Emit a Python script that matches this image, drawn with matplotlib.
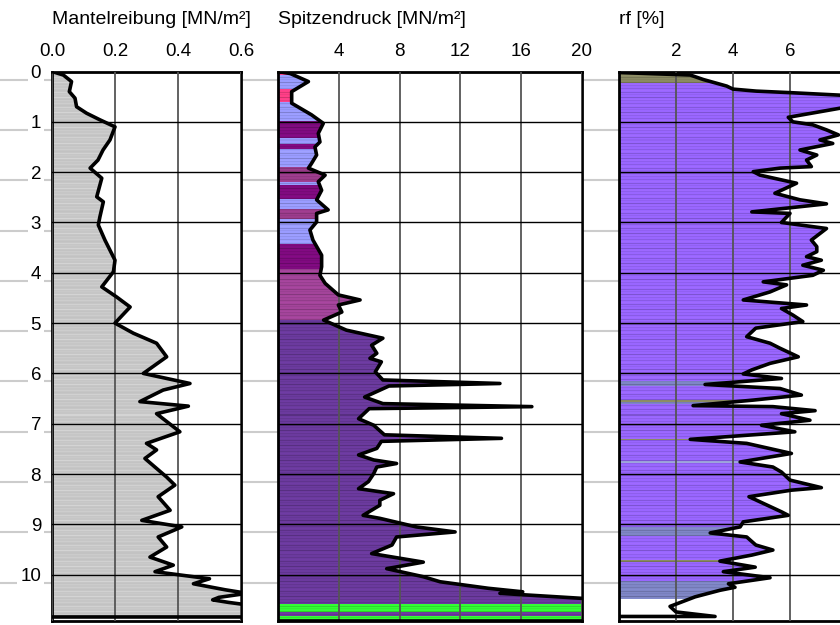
import numpy as np
import matplotlib.pyplot as plt
from matplotlib.patches import Polygon
from matplotlib.colors import to_rgba

plt.rcParams['font.family'] = ['Liberation Sans', 'DejaVu Sans']

# Mantelreibung [MN/m2] over depth [m]
mr_depth = [0, 0.07, 0.2, 0.4, 0.53, 0.7, 0.83, 0.96, 1.1, 1.36, 1.56, 1.76, 1.92, 2.12, 2.49,
            2.59, 2.89, 3.05, 3.35, 3.75, 3.98, 4.28, 4.48, 4.68, 5.0, 5.2, 5.4, 5.67, 6.0, 6.2,
            6.33, 6.56, 6.65, 6.8, 7.16, 7.39, 7.52, 7.69, 8.06, 8.22, 8.45, 8.72, 8.92, 9.05,
            9.25, 9.45, 9.65, 9.81, 9.94, 10.04, 10.08, 10.18, 10.3, 10.37, 10.45, 10.5, 10.55,
            10.6, 10.84, 10.84]
mr_value = [0, 0.036, 0.062, 0.055, 0.073, 0.078, 0.11, 0.152, 0.2, 0.184, 0.162, 0.146, 0.121,
            0.158, 0.142, 0.163, 0.152, 0.147, 0.168, 0.2, 0.195, 0.158, 0.205, 0.248, 0.2, 0.258,
            0.332, 0.364, 0.29, 0.438, 0.353, 0.279, 0.433, 0.332, 0.406, 0.3, 0.332, 0.295,
            0.364, 0.39, 0.337, 0.375, 0.285, 0.412, 0.337, 0.364, 0.311, 0.385, 0.327, 0.449,
            0.5, 0.449, 0.55, 0.62, 0.53, 0.51, 0.56, 0.62, 0.62, 0]

# Spitzendruck [MN/m2]
qc_depth = [0, 0.04, 0.2, 0.4, 0.63, 0.86, 1.03, 1.23, 1.4, 1.5, 1.66, 1.83, 1.92, 2.06, 2.19,
            2.36, 2.55, 2.75, 2.82, 2.99, 3.15, 3.35, 3.65, 3.88, 4.05, 4.21, 4.44, 4.54, 4.64,
            4.78, 4.94, 5.14, 5.3, 5.44, 5.6, 5.7, 5.77, 5.97, 6.13, 6.2, 6.25, 6.47, 6.6, 6.66,
            6.7, 6.9, 7.03, 7.22, 7.29, 7.35, 7.49, 7.62, 7.72, 7.79, 7.86, 7.99, 8.15, 8.29,
            8.39, 8.52, 8.62, 8.82, 8.88, 9.05, 9.15, 9.25, 9.41, 9.58, 9.75, 9.88, 10.04, 10.14,
            10.27, 10.34, 10.37, 10.47, 10.5, 10.92, 10.92]
qc_value = [0, 0.8, 2.0, 0.9, 0.9, 2.2, 2.98, 2.65, 2.76, 2.43, 2.54, 2.2, 2.0, 3.1, 2.65, 2.87,
            2.54, 3.3, 2.54, 2.54, 2.1, 2.3, 2.87, 2.87, 2.76, 3.1, 3.97, 5.4, 3.97, 4.2, 3.0,
            4.5, 6.9, 6.16, 6.5, 6.05, 6.8, 6.4, 6.9, 14.6, 7.3, 5.7, 6.9, 16.7, 6.0, 5.3, 6.3,
            7.0, 14.7, 6.8, 6.5, 5.3, 6.3, 7.8, 6.5, 6.3, 5.95, 5.3, 7.6, 6.7, 6.7, 5.6, 6.7,
            9.1, 11.65, 7.8, 7.5, 6.16, 9.56, 7.15, 9.56, 10.66, 13.84, 16.1, 14.6, 20, 22, 22, 0]

# Reibungsverhaeltnis rf [%]
rf_depth = [0.02, 0.07, 0.16, 0.29, 0.35, 0.39, 0.42, 0.47, 0.55, 0.65, 0.73, 0.91, 1.0, 1.06,
            1.16, 1.26, 1.36, 1.43, 1.56, 1.66, 1.76, 1.89, 1.92, 1.99, 2.06, 2.22, 2.42, 2.55,
            2.63, 2.79, 2.82, 3.0, 3.12, 3.35, 3.48, 3.58, 3.68, 3.75, 3.85, 3.95, 4.05, 4.18,
            4.24, 4.38, 4.54, 4.64, 4.71, 4.84, 4.97, 5.1, 5.27, 5.4, 5.5, 5.67, 5.8, 5.93, 6.01,
            6.1, 6.22, 6.3, 6.43, 6.53, 6.64, 6.66, 6.74, 6.8, 6.93, 7.03, 7.16, 7.31, 7.39,
            7.59, 7.76, 7.86, 7.96, 8.12, 8.27, 8.32, 8.45, 8.75, 8.82, 8.95, 9.05, 9.17, 9.25,
            9.41, 9.51, 9.61, 9.73, 9.85, 9.94, 10.06, 10.18, 10.25, 10.31, 10.44, 10.63, 10.74,
            10.83, 10.83]
rf_value = [0, 2.5, 2.96, 3.78, 4.0, 4.82, 6.0, 7.75, 8.6, 8.8, 7.75, 5.94, 6.1, 6.8, 7.28, 7.7,
            7.05, 7.5, 6.35, 6.94, 6.58, 6.75, 5.65, 4.71, 4.95, 6.23, 5.47, 6.35, 7.28, 4.66,
            6.0, 5.7, 7.28, 6.75, 6.94, 6.94, 6.58, 7.1, 6.45, 7.17, 6.8, 5.06, 5.88, 5.3, 4.36,
            6.58, 5.7, 6.1, 6.45, 4.8, 4.48, 5.3, 5.65, 6.29, 5.3, 4.66, 4.36, 5.7, 3.02, 5.65,
            6.4, 4.71, 2.6, 5.4, 6.88, 5.7, 6.7, 5.0, 6.17, 2.5, 4.48, 6.05, 4.25, 5.4, 5.7, 6.0,
            7.1, 6.05, 4.56, 5.7, 5.94, 4.36, 4.25, 3.2, 4.48, 4.8, 5.4, 4.66, 3.54, 4.78, 3.66,
            5.3, 3.84, 4.07, 3.54, 2.67, 1.79, 2.0, 3.37, 0]

# soil layers (top, bottom, colour) used for the fills
mr_layers = [(0.0, 10.92, '#c6c6c6')]
qc_layers = [(0.0, 0.08, '#ff3f87'), (0.08, 0.36, '#9a9cff'), (0.36, 0.62, '#ff3f87'),
             (0.62, 1.0, '#9a9cff'), (1.0, 1.35, '#800a80'), (1.35, 1.45, '#9a9cff'),
             (1.45, 1.55, '#800a80'), (1.55, 1.9, '#9a9cff'), (1.9, 2.2, '#9c3c8c'),
             (2.2, 2.27, '#9a9cff'), (2.27, 2.55, '#800a80'), (2.55, 2.75, '#9a9cff'),
             (2.75, 2.95, '#9c3c8c'), (2.95, 3.45, '#9a9cff'), (3.45, 3.95, '#800a80'),
             (3.95, 4.95, '#a3449a'), (4.95, 10.59, '#6b3a9e'), (10.59, 10.74, '#33ff33'),
             (10.74, 10.83, '#6b3a9e'), (10.83, 10.92, '#33ff33')]
rf_layers = [(0.0, 0.24, '#8a8a62'), (0.24, 6.17, '#9966ff'), (6.17, 6.27, '#7f86c6'),
             (6.27, 6.55, '#9966ff'), (6.55, 6.58, '#8a8a62'), (6.58, 6.62, '#7f86c6'),
             (6.62, 7.3, '#9966ff'), (7.3, 7.33, '#8a8a62'), (7.33, 7.74, '#9966ff'),
             (7.74, 7.78, '#9aa0d8'), (7.78, 9.07, '#9966ff'), (9.07, 9.25, '#7f86c6'),
             (9.25, 9.71, '#9966ff'), (9.71, 9.74, '#8a8a62'), (9.74, 10.13, '#9966ff'),
             (10.13, 10.49, '#7f86c6')]

dmax = 10.92
fig = plt.figure(figsize=(8.4, 6.25), dpi=100)
bottom = 4 / 625
height = (621 - 71.5) / 625

# grey depth lines and labels behind the panels
bg = fig.add_axes([0, bottom, 1, height], zorder=-1)
bg.set_xlim(0, 840)
bg.set_ylim(dmax, 0)
bg.axis('off')
for d in range(11):
    bg.plot([0, 840], [d + 0.16, d + 0.16], color='#cccccc', lw=1.5)
    bg.text(41, d + 0.04, str(d), ha='right', va='center', fontsize=13.5,
            bbox=dict(fc='white', ec='none', pad=2))

stripe = np.array([1, 1, 0.9, 1, 1.04, 1, 0.86, 1, 0.95, 1, 1, 0.82, 1, 1.03, 0.93])


def layer_image(layers, light=False):
    rows = int(dmax / 0.02)
    img = np.zeros((rows, 1, 4))
    mid = (np.arange(rows) + 0.5) * 0.02
    for top, bot, col in layers:
        m = (mid >= top) & (mid < bot)
        img[m, 0, :] = to_rgba(col)
    f = np.resize(stripe, rows)
    if light:
        f = 1 + (1 - f) * 0.4
    img[:, 0, :3] = np.clip(img[:, 0, :3] * f[:, None], 0, 1)
    return img


def panel(left, width, xmax, ticks, labels, depth, value, layers, light=False):
    ax = fig.add_axes([left / 840, bottom, width / 840, height])
    poly = Polygon(np.column_stack([value, depth]), closed=True, fc='none', ec='none')
    ax.add_patch(poly)
    im = ax.imshow(layer_image(layers, light), extent=[0, xmax * 1.5, dmax, 0],
                   aspect='auto', interpolation='nearest')
    im.set_clip_path(poly)
    ax.set_xlim(0, xmax)
    ax.set_ylim(dmax, 0)
    ax.plot(value, depth, color='black', lw=2.6, zorder=3, solid_joinstyle='round')
    ax.xaxis.tick_top()
    ax.set_xticks(ticks)
    ax.set_xticklabels(labels, fontsize=13.5)
    ax.set_yticks(range(1, 11))
    ax.tick_params(length=0, pad=8, labelleft=False)
    ax.grid(axis='y', color='black', lw=1)
    ax.grid(axis='x', color='#555555', lw=1.3)
    ax.set_axisbelow(False)
    for s in ax.spines.values():
        s.set_linewidth(2)
    return ax


panel(52, 189, 0.6, [0, 0.2, 0.4, 0.6], ['0.0', '0.2', '0.4', '0.6'],
      mr_depth, mr_value, mr_layers, light=True)
panel(278, 304, 20, [4, 8, 12, 16, 20], ['4', '8', '12', '16', '20'],
      qc_depth, qc_value, qc_layers)
panel(619, 285, 10, [2, 4, 6], ['2', '4', '6'],
      rf_depth, rf_value, rf_layers)

fig.text(52 / 840, 1 - 20 / 625, 'Mantelreibung [MN/m²]', va='center', fontsize=14)
fig.text(278 / 840, 1 - 20 / 625, 'Spitzendruck [MN/m²]', va='center', fontsize=14)
fig.text(619 / 840, 1 - 20 / 625, 'rf [%]', va='center', fontsize=14)

plt.savefig('out.png', dpi=100)
